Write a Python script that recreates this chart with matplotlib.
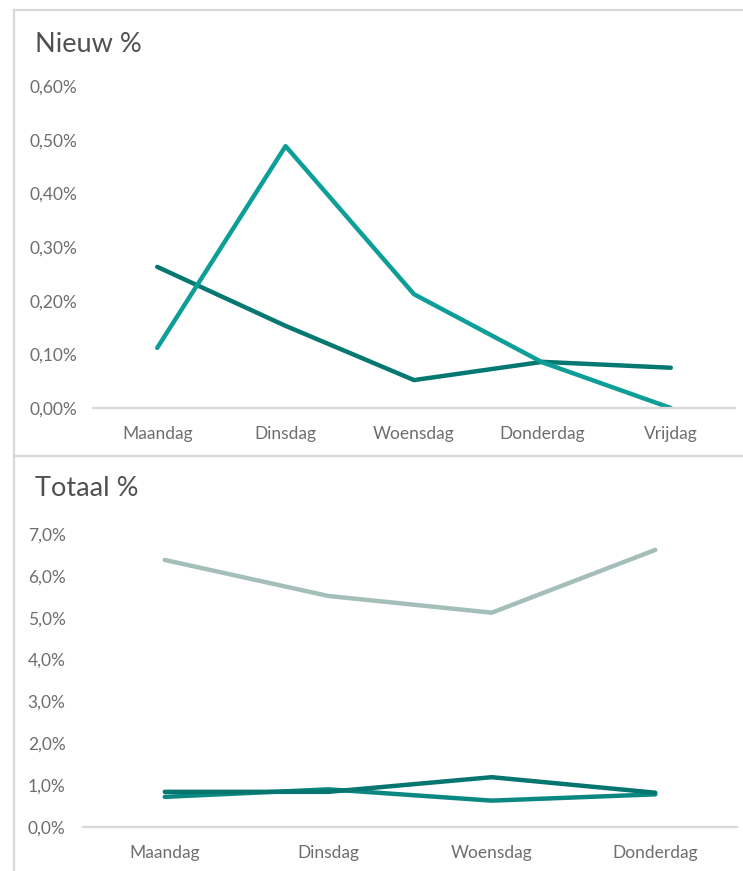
import matplotlib
matplotlib.use("Agg")
import matplotlib.pyplot as plt
from matplotlib.lines import Line2D
from matplotlib.ticker import FuncFormatter

plt.rcParams['font.family'] = ['Lato', 'DejaVu Sans']

# Data
days_top = ["Maandag", "Dinsdag", "Woensdag", "Donderdag", "Vrijdag"]
nieuw_a = [0.112, 0.488, 0.212, 0.085, 0.0]      # bright teal
nieuw_b = [0.263, 0.153, 0.052, 0.086, 0.075]    # dark teal
top_ticks = [0.0, 0.1, 0.2, 0.3, 0.4, 0.5, 0.6]

days_bot = ["Maandag", "Dinsdag", "Woensdag", "Donderdag"]
totaal_grey = [6.38, 5.52, 5.12, 6.62]
totaal_dark = [0.84, 0.84, 1.19, 0.82]
totaal_teal = [0.72, 0.90, 0.63, 0.78]
bot_ticks = [0, 1, 2, 3, 4, 5, 6, 7]

W, H = 743, 871
fig = plt.figure(figsize=(W / 100, H / 100), dpi=100)

border = "#d9d9d9"
def fx(x): return x / W
def fy(y): return 1 - y / H

fig.add_artist(Line2D([fx(14), fx(743)], [fy(10), fy(10)], color=border, lw=1.6))
fig.add_artist(Line2D([fx(14), fx(14)], [fy(10), fy(871)], color=border, lw=1.6))
fig.add_artist(Line2D([fx(14), fx(743)], [fy(456), fy(456)], color=border, lw=1.6))

tick_color = "#6e6e6e"
title_color = "#505050"

# Top axes
ax1 = fig.add_axes([fx(93), fy(408), fx(735) - fx(93), fy(86) - fy(408)])
x1 = range(len(days_top))
ax1.plot(x1, nieuw_b, color="#057872", lw=3.2, solid_capstyle='round', solid_joinstyle='round')
ax1.plot(x1, nieuw_a, color="#0e9e98", lw=3.2, solid_capstyle='round', solid_joinstyle='round')
ax1.set_xlim(-0.5, len(days_top) - 0.5)
ax1.set_ylim(0, 0.6)
ax1.set_yticks(top_ticks)
ax1.yaxis.set_major_formatter(FuncFormatter(lambda v, p: f"{v:.2f}%".replace('.', ',')))
ax1.set_xticks(list(x1))
ax1.set_xticklabels(days_top)

# Bottom axes
ax2 = fig.add_axes([fx(83), fy(827), fx(737) - fx(83), fy(534) - fy(827)])
x2 = range(len(days_bot))
ax2.plot(x2, totaal_grey, color="#a4bfba", lw=3.2, solid_capstyle='round', solid_joinstyle='round')
ax2.plot(x2, totaal_teal, color="#0b8882", lw=3.2, solid_capstyle='round', solid_joinstyle='round')
ax2.plot(x2, totaal_dark, color="#057570", lw=3.2, solid_capstyle='round', solid_joinstyle='round')
ax2.set_xlim(-0.5, len(days_bot) - 0.5)
ax2.set_ylim(0, 7)
ax2.set_yticks(bot_ticks)
ax2.yaxis.set_major_formatter(FuncFormatter(lambda v, p: f"{v:.1f}%".replace('.', ',')))
ax2.set_xticks(list(x2))
ax2.set_xticklabels(days_bot)

for ax, ypad in ((ax1, 11.5), (ax2, 12.5)):
    for s in ("top", "right", "left"):
        ax.spines[s].set_visible(False)
    ax.spines["bottom"].set_color("#d9d9d9")
    ax.spines["bottom"].set_linewidth(1.6)
    ax.tick_params(axis='both', length=0, labelsize=12.5, colors=tick_color)
    ax.tick_params(axis='y', pad=ypad)
    ax.tick_params(axis='x', pad=13)
    ax.patch.set_alpha(0)

fig.text(fx(35), fy(45), "Nieuw %", fontsize=19.5, color=title_color, va='center', ha='left')
fig.text(fx(35), fy(488), "Totaal %", fontsize=19.5, color=title_color, va='center', ha='left')

fig.savefig("out.png", dpi=100, facecolor="white")
